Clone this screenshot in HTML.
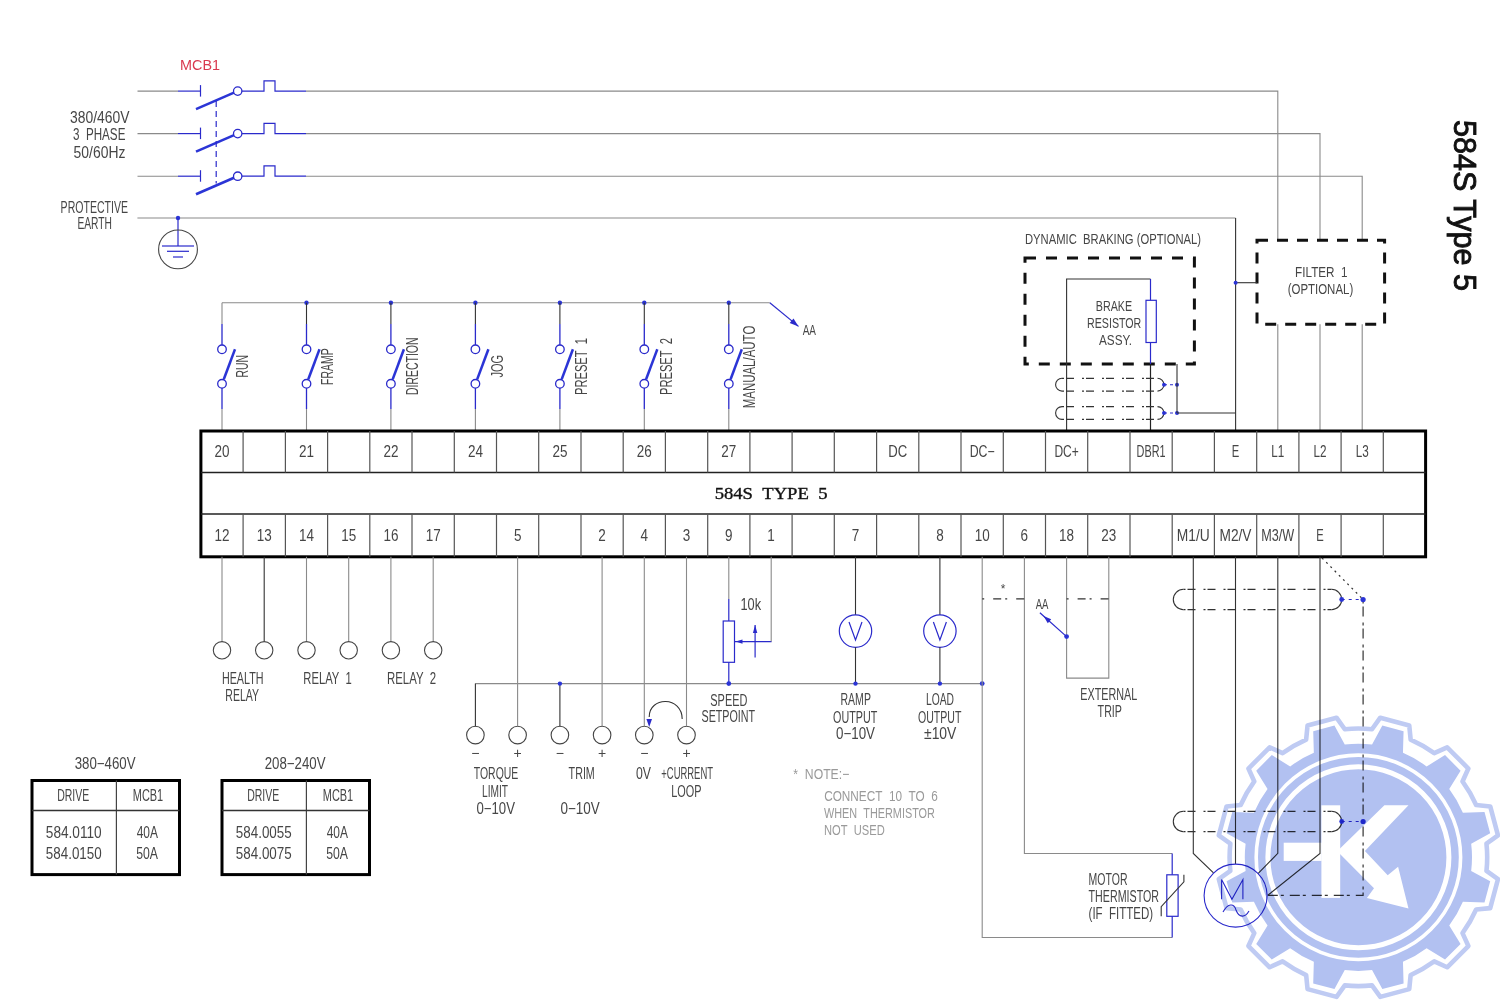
<!DOCTYPE html><html><head><meta charset="utf-8"><style>html,body{margin:0;padding:0;background:#fff;width:1500px;height:1000px;overflow:hidden}body{position:relative}svg{display:block}</style></head><body>
<svg width="1500" height="1000" viewBox="0 0 1500 1000">
<rect width="1500" height="1000" fill="#fff"/>
<text x="180.0" y="70.0" font-size="14.34" fill="#d9394f" textLength="40.0" lengthAdjust="spacingAndGlyphs" font-family="Liberation Sans" >MCB1</text>
<line x1="137.5" y1="91.1" x2="178.0" y2="91.1" stroke="#8a8a8a" stroke-width="1.1" />
<line x1="178.0" y1="91.1" x2="200.5" y2="91.1" stroke="#2a2acb" stroke-width="1.2" />
<line x1="200.5" y1="85.1" x2="200.5" y2="96.6" stroke="#2a2acb" stroke-width="1.2" />
<line x1="196.0" y1="109.1" x2="234.0" y2="92.6" stroke="#2b35d6" stroke-width="2.6" />
<circle cx="237.7" cy="91.1" r="4.2" fill="#fff" stroke="#2a2acb" stroke-width="1.3"/>
<polyline points="241.9,91.1 264.0,91.1 264.0,80.8 275.0,80.8 275.0,91.1 306.0,91.1" fill="none" stroke="#2a2acb" stroke-width="1.2" />
<line x1="137.5" y1="133.6" x2="178.0" y2="133.6" stroke="#8a8a8a" stroke-width="1.1" />
<line x1="178.0" y1="133.6" x2="200.5" y2="133.6" stroke="#2a2acb" stroke-width="1.2" />
<line x1="200.5" y1="127.6" x2="200.5" y2="139.1" stroke="#2a2acb" stroke-width="1.2" />
<line x1="196.0" y1="151.6" x2="234.0" y2="135.1" stroke="#2b35d6" stroke-width="2.6" />
<circle cx="237.7" cy="133.6" r="4.2" fill="#fff" stroke="#2a2acb" stroke-width="1.3"/>
<polyline points="241.9,133.6 264.0,133.6 264.0,123.3 275.0,123.3 275.0,133.6 306.0,133.6" fill="none" stroke="#2a2acb" stroke-width="1.2" />
<line x1="137.5" y1="176.2" x2="178.0" y2="176.2" stroke="#8a8a8a" stroke-width="1.1" />
<line x1="178.0" y1="176.2" x2="200.5" y2="176.2" stroke="#2a2acb" stroke-width="1.2" />
<line x1="200.5" y1="170.2" x2="200.5" y2="181.7" stroke="#2a2acb" stroke-width="1.2" />
<line x1="196.0" y1="194.2" x2="234.0" y2="177.7" stroke="#2b35d6" stroke-width="2.6" />
<circle cx="237.7" cy="176.2" r="4.2" fill="#fff" stroke="#2a2acb" stroke-width="1.3"/>
<polyline points="241.9,176.2 264.0,176.2 264.0,165.9 275.0,165.9 275.0,176.2 306.0,176.2" fill="none" stroke="#2a2acb" stroke-width="1.2" />
<line x1="216.2" y1="101.0" x2="216.2" y2="183.5" stroke="#2a2acb" stroke-width="1.2" stroke-dasharray="6,4"/>
<text x="70.0" y="123.0" font-size="15.68" fill="#464646" textLength="59.4" lengthAdjust="spacingAndGlyphs" font-family="Liberation Sans" >380/460V</text>
<text x="73.0" y="139.6" font-size="15.68" fill="#464646" textLength="52.4" lengthAdjust="spacingAndGlyphs" font-family="Liberation Sans" >3&#160;&#160;PHASE</text>
<text x="73.6" y="157.6" font-size="15.68" fill="#464646" textLength="51.8" lengthAdjust="spacingAndGlyphs" font-family="Liberation Sans" >50/60Hz</text>
<text x="60.6" y="213.0" font-size="15.68" fill="#464646" textLength="67.4" lengthAdjust="spacingAndGlyphs" font-family="Liberation Sans" >PROTECTIVE</text>
<text x="77.4" y="229.4" font-size="15.68" fill="#464646" textLength="34.6" lengthAdjust="spacingAndGlyphs" font-family="Liberation Sans" >EARTH</text>
<line x1="137.4" y1="218.0" x2="1235.6" y2="218.0" stroke="#8a8a8a" stroke-width="1.1" />
<line x1="1235.6" y1="218.0" x2="1235.6" y2="431.0" stroke="#333" stroke-width="1.1" />
<circle cx="178.0" cy="218.0" r="2.2" fill="#2b35d6"/>
<line x1="178.0" y1="218.0" x2="178.0" y2="246.0" stroke="#2a2acb" stroke-width="1.2" />
<circle cx="178.0" cy="249.4" r="19.4" fill="none" stroke="#444" stroke-width="1.1"/>
<line x1="162.0" y1="246.0" x2="194.0" y2="246.0" stroke="#2a2acb" stroke-width="1.2" />
<line x1="167.0" y1="251.3" x2="189.0" y2="251.3" stroke="#2a2acb" stroke-width="1.2" />
<line x1="173.0" y1="257.0" x2="183.0" y2="257.0" stroke="#2a2acb" stroke-width="1.2" />
<polyline points="306.0,91.1 1277.8,91.1 1277.8,240.2" fill="none" stroke="#8a8a8a" stroke-width="1.1" />
<line x1="1277.8" y1="324.2" x2="1277.8" y2="431.0" stroke="#8a8a8a" stroke-width="1.1" />
<polyline points="306.0,133.6 1320.0,133.6 1320.0,240.2" fill="none" stroke="#8a8a8a" stroke-width="1.1" />
<line x1="1320.0" y1="324.2" x2="1320.0" y2="431.0" stroke="#8a8a8a" stroke-width="1.1" />
<polyline points="306.0,176.2 1362.2,176.2 1362.2,240.2" fill="none" stroke="#8a8a8a" stroke-width="1.1" />
<line x1="1362.2" y1="324.2" x2="1362.2" y2="431.0" stroke="#8a8a8a" stroke-width="1.1" />
<rect x="1257" y="240.2" width="127.6" height="84" fill="none" stroke="#111" stroke-width="3" stroke-dasharray="11,9"/>
<line x1="1235.6" y1="282.7" x2="1257.0" y2="282.7" stroke="#333" stroke-width="1.1" />
<circle cx="1235.6" cy="282.7" r="2" fill="#2b35d6"/>
<text x="1295.1" y="277.2" font-size="14.56" fill="#464646" textLength="52.5" lengthAdjust="spacingAndGlyphs" font-family="Liberation Sans" >FILTER&#160;&#160;1</text>
<text x="1287.7" y="293.8" font-size="14.56" fill="#464646" textLength="65.5" lengthAdjust="spacingAndGlyphs" font-family="Liberation Sans" >(OPTIONAL)</text>
<text transform="translate(1453.6,120) rotate(90)" x="0" y="0" font-size="32" fill="#111" textLength="171" lengthAdjust="spacingAndGlyphs" stroke="#111" stroke-width="0.9" font-family="Liberation Sans">584S Type 5</text>
<text x="1025.0" y="243.8" font-size="15.12" fill="#464646" textLength="176.0" lengthAdjust="spacingAndGlyphs" font-family="Liberation Sans" >DYNAMIC&#160;&#160;BRAKING (OPTIONAL)</text>
<rect x="1025" y="258" width="169.4" height="106" fill="none" stroke="#111" stroke-width="3" stroke-dasharray="11,10"/>
<polyline points="1066.6,431.0 1066.6,279.0 1150.5,279.0" fill="none" stroke="#333" stroke-width="1.1" />
<line x1="1150.5" y1="279.0" x2="1150.5" y2="300.3" stroke="#2a2acb" stroke-width="1.2" />
<rect x="1146" y="300.3" width="10.3" height="42.2" fill="none" stroke="#2a2acb" stroke-width="1.2"/>
<line x1="1150.5" y1="342.5" x2="1150.5" y2="364.0" stroke="#2a2acb" stroke-width="1.2" />
<line x1="1150.5" y1="364.0" x2="1150.5" y2="431.0" stroke="#222" stroke-width="1.2" />
<text x="1095.8" y="311.0" font-size="15.12" fill="#464646" textLength="36.3" lengthAdjust="spacingAndGlyphs" font-family="Liberation Sans" >BRAKE</text>
<text x="1087.0" y="327.8" font-size="15.12" fill="#464646" textLength="54.3" lengthAdjust="spacingAndGlyphs" font-family="Liberation Sans" >RESISTOR</text>
<text x="1099.0" y="345.4" font-size="15.12" fill="#464646" textLength="33.0" lengthAdjust="spacingAndGlyphs" font-family="Liberation Sans" >ASSY.</text>
<path d="M1062.0,378.3 A6.4,6.4 0 0 0 1062.0,391.1" fill="none" stroke="#333" stroke-width="1.1"/>
<path d="M1157.5,378.3 A6.4,6.4 0 0 1 1157.5,391.1" fill="none" stroke="#333" stroke-width="1.1"/>
<line x1="1062.0" y1="378.3" x2="1157.5" y2="378.3" stroke="#333" stroke-width="1.3" stroke-dasharray="2,2,8,8"/>
<line x1="1062.0" y1="391.1" x2="1157.5" y2="391.1" stroke="#333" stroke-width="1.3" stroke-dasharray="2,2,8,8"/>
<circle cx="1164.0" cy="384.7" r="2" fill="#2b35d6"/>
<line x1="1164.0" y1="384.7" x2="1177.0" y2="384.7" stroke="#2a2acb" stroke-width="1.1" stroke-dasharray="3,3"/>
<circle cx="1177.0" cy="384.7" r="2" fill="#2b35d6"/>
<path d="M1062.0,406.6 A6.4,6.4 0 0 0 1062.0,419.4" fill="none" stroke="#333" stroke-width="1.1"/>
<path d="M1157.5,406.6 A6.4,6.4 0 0 1 1157.5,419.4" fill="none" stroke="#333" stroke-width="1.1"/>
<line x1="1062.0" y1="406.6" x2="1157.5" y2="406.6" stroke="#333" stroke-width="1.3" stroke-dasharray="2,2,8,8"/>
<line x1="1062.0" y1="419.4" x2="1157.5" y2="419.4" stroke="#333" stroke-width="1.3" stroke-dasharray="2,2,8,8"/>
<circle cx="1164.0" cy="413.0" r="2" fill="#2b35d6"/>
<line x1="1164.0" y1="413.0" x2="1177.0" y2="413.0" stroke="#2a2acb" stroke-width="1.1" stroke-dasharray="3,3"/>
<circle cx="1177.0" cy="413.0" r="2" fill="#2b35d6"/>
<line x1="1177.0" y1="364.0" x2="1177.0" y2="413.0" stroke="#333" stroke-width="1.1" />
<line x1="1177.0" y1="413.0" x2="1235.6" y2="413.0" stroke="#333" stroke-width="1.1" />
<line x1="222.0" y1="302.7" x2="769.8" y2="302.7" stroke="#8a8a8a" stroke-width="1.1" />
<line x1="769.8" y1="302.7" x2="798.5" y2="326.4" stroke="#2a2acb" stroke-width="1.2" />
<polygon points="798.5,326.4 789.7,323.0 793.5,318.4" fill="#2a2acb"/>
<text x="802.7" y="334.5" font-size="14.56" fill="#464646" textLength="13.3" lengthAdjust="spacingAndGlyphs" font-family="Liberation Sans" >AA</text>
<line x1="222.0" y1="302.7" x2="222.0" y2="324.0" stroke="#8a8a8a" stroke-width="1.1" />
<line x1="222.0" y1="324.0" x2="222.0" y2="345.0" stroke="#2a2acb" stroke-width="1.3" />
<circle cx="222.0" cy="349.3" r="4.3" fill="#fff" stroke="#2a2acb" stroke-width="1.3"/>
<circle cx="222.0" cy="383.8" r="4.3" fill="#fff" stroke="#2a2acb" stroke-width="1.3"/>
<line x1="222.0" y1="388.1" x2="222.0" y2="409.0" stroke="#2a2acb" stroke-width="1.3" />
<line x1="222.0" y1="409.0" x2="222.0" y2="431.0" stroke="#8a8a8a" stroke-width="1.1" />
<line x1="223.8" y1="379.3" x2="235.0" y2="349.2" stroke="#2b35d6" stroke-width="2.5" />
<circle cx="306.5" cy="302.7" r="2.2" fill="#2b35d6"/>
<line x1="306.5" y1="302.7" x2="306.5" y2="324.0" stroke="#333" stroke-width="1.1" />
<line x1="306.5" y1="324.0" x2="306.5" y2="345.0" stroke="#2a2acb" stroke-width="1.3" />
<circle cx="306.5" cy="349.3" r="4.3" fill="#fff" stroke="#2a2acb" stroke-width="1.3"/>
<circle cx="306.5" cy="383.8" r="4.3" fill="#fff" stroke="#2a2acb" stroke-width="1.3"/>
<line x1="306.5" y1="388.1" x2="306.5" y2="409.0" stroke="#2a2acb" stroke-width="1.3" />
<line x1="306.5" y1="409.0" x2="306.5" y2="431.0" stroke="#8a8a8a" stroke-width="1.1" />
<line x1="308.3" y1="379.3" x2="319.5" y2="349.2" stroke="#2b35d6" stroke-width="2.5" />
<circle cx="390.9" cy="302.7" r="2.2" fill="#2b35d6"/>
<line x1="390.9" y1="302.7" x2="390.9" y2="324.0" stroke="#333" stroke-width="1.1" />
<line x1="390.9" y1="324.0" x2="390.9" y2="345.0" stroke="#2a2acb" stroke-width="1.3" />
<circle cx="390.9" cy="349.3" r="4.3" fill="#fff" stroke="#2a2acb" stroke-width="1.3"/>
<circle cx="390.9" cy="383.8" r="4.3" fill="#fff" stroke="#2a2acb" stroke-width="1.3"/>
<line x1="390.9" y1="388.1" x2="390.9" y2="409.0" stroke="#2a2acb" stroke-width="1.3" />
<line x1="390.9" y1="409.0" x2="390.9" y2="431.0" stroke="#8a8a8a" stroke-width="1.1" />
<line x1="392.7" y1="379.3" x2="403.9" y2="349.2" stroke="#2b35d6" stroke-width="2.5" />
<circle cx="475.4" cy="302.7" r="2.2" fill="#2b35d6"/>
<line x1="475.4" y1="302.7" x2="475.4" y2="324.0" stroke="#333" stroke-width="1.1" />
<line x1="475.4" y1="324.0" x2="475.4" y2="345.0" stroke="#2a2acb" stroke-width="1.3" />
<circle cx="475.4" cy="349.3" r="4.3" fill="#fff" stroke="#2a2acb" stroke-width="1.3"/>
<circle cx="475.4" cy="383.8" r="4.3" fill="#fff" stroke="#2a2acb" stroke-width="1.3"/>
<line x1="475.4" y1="388.1" x2="475.4" y2="409.0" stroke="#2a2acb" stroke-width="1.3" />
<line x1="475.4" y1="409.0" x2="475.4" y2="431.0" stroke="#8a8a8a" stroke-width="1.1" />
<line x1="477.2" y1="379.3" x2="488.4" y2="349.2" stroke="#2b35d6" stroke-width="2.5" />
<circle cx="559.9" cy="302.7" r="2.2" fill="#2b35d6"/>
<line x1="559.9" y1="302.7" x2="559.9" y2="324.0" stroke="#333" stroke-width="1.1" />
<line x1="559.9" y1="324.0" x2="559.9" y2="345.0" stroke="#2a2acb" stroke-width="1.3" />
<circle cx="559.9" cy="349.3" r="4.3" fill="#fff" stroke="#2a2acb" stroke-width="1.3"/>
<circle cx="559.9" cy="383.8" r="4.3" fill="#fff" stroke="#2a2acb" stroke-width="1.3"/>
<line x1="559.9" y1="388.1" x2="559.9" y2="409.0" stroke="#2a2acb" stroke-width="1.3" />
<line x1="559.9" y1="409.0" x2="559.9" y2="431.0" stroke="#8a8a8a" stroke-width="1.1" />
<line x1="561.7" y1="379.3" x2="572.9" y2="349.2" stroke="#2b35d6" stroke-width="2.5" />
<circle cx="644.3" cy="302.7" r="2.2" fill="#2b35d6"/>
<line x1="644.3" y1="302.7" x2="644.3" y2="324.0" stroke="#333" stroke-width="1.1" />
<line x1="644.3" y1="324.0" x2="644.3" y2="345.0" stroke="#2a2acb" stroke-width="1.3" />
<circle cx="644.3" cy="349.3" r="4.3" fill="#fff" stroke="#2a2acb" stroke-width="1.3"/>
<circle cx="644.3" cy="383.8" r="4.3" fill="#fff" stroke="#2a2acb" stroke-width="1.3"/>
<line x1="644.3" y1="388.1" x2="644.3" y2="409.0" stroke="#2a2acb" stroke-width="1.3" />
<line x1="644.3" y1="409.0" x2="644.3" y2="431.0" stroke="#8a8a8a" stroke-width="1.1" />
<line x1="646.1" y1="379.3" x2="657.3" y2="349.2" stroke="#2b35d6" stroke-width="2.5" />
<circle cx="728.8" cy="302.7" r="2.2" fill="#2b35d6"/>
<line x1="728.8" y1="302.7" x2="728.8" y2="324.0" stroke="#333" stroke-width="1.1" />
<line x1="728.8" y1="324.0" x2="728.8" y2="345.0" stroke="#2a2acb" stroke-width="1.3" />
<circle cx="728.8" cy="349.3" r="4.3" fill="#fff" stroke="#2a2acb" stroke-width="1.3"/>
<circle cx="728.8" cy="383.8" r="4.3" fill="#fff" stroke="#2a2acb" stroke-width="1.3"/>
<line x1="728.8" y1="388.1" x2="728.8" y2="409.0" stroke="#2a2acb" stroke-width="1.3" />
<line x1="728.8" y1="409.0" x2="728.8" y2="431.0" stroke="#8a8a8a" stroke-width="1.1" />
<line x1="730.6" y1="379.3" x2="741.8" y2="349.2" stroke="#2b35d6" stroke-width="2.5" />
<text transform="translate(248.3,377.5) rotate(-90)" x="0" y="0" font-size="15.68" fill="#464646" textLength="22.5" lengthAdjust="spacingAndGlyphs" font-family="Liberation Sans">RUN</text>
<text transform="translate(333.3,385.0) rotate(-90)" x="0" y="0" font-size="15.68" fill="#464646" textLength="36.7" lengthAdjust="spacingAndGlyphs" font-family="Liberation Sans">FRAMP</text>
<text transform="translate(417.5,395.0) rotate(-90)" x="0" y="0" font-size="15.68" fill="#464646" textLength="57.5" lengthAdjust="spacingAndGlyphs" font-family="Liberation Sans">DIRECTION</text>
<text transform="translate(502.5,377.5) rotate(-90)" x="0" y="0" font-size="15.68" fill="#464646" textLength="22.5" lengthAdjust="spacingAndGlyphs" font-family="Liberation Sans">JOG</text>
<text transform="translate(586.7,395.0) rotate(-90)" x="0" y="0" font-size="15.68" fill="#464646" textLength="57.0" lengthAdjust="spacingAndGlyphs" font-family="Liberation Sans">PRESET&#160;&#160;1</text>
<text transform="translate(671.7,395.0) rotate(-90)" x="0" y="0" font-size="15.68" fill="#464646" textLength="57.0" lengthAdjust="spacingAndGlyphs" font-family="Liberation Sans">PRESET&#160;&#160;2</text>
<text transform="translate(755.0,408.3) rotate(-90)" x="0" y="0" font-size="15.68" fill="#464646" textLength="82.6" lengthAdjust="spacingAndGlyphs" font-family="Liberation Sans">MANUAL/AUTO</text>
<rect x="200.9" y="431" width="1224.7" height="125.8" fill="#fff" stroke="#000" stroke-width="3"/>
<line x1="200.9" y1="472.5" x2="1425.6" y2="472.5" stroke="#222" stroke-width="1.3" />
<line x1="200.9" y1="514.0" x2="1425.6" y2="514.0" stroke="#222" stroke-width="1.3" />
<line x1="243.1" y1="431.0" x2="243.1" y2="472.5" stroke="#555" stroke-width="1.2" />
<line x1="243.1" y1="514.0" x2="243.1" y2="556.8" stroke="#555" stroke-width="1.2" />
<line x1="285.4" y1="431.0" x2="285.4" y2="472.5" stroke="#555" stroke-width="1.2" />
<line x1="285.4" y1="514.0" x2="285.4" y2="556.8" stroke="#555" stroke-width="1.2" />
<line x1="327.6" y1="431.0" x2="327.6" y2="472.5" stroke="#555" stroke-width="1.2" />
<line x1="327.6" y1="514.0" x2="327.6" y2="556.8" stroke="#555" stroke-width="1.2" />
<line x1="369.8" y1="431.0" x2="369.8" y2="472.5" stroke="#555" stroke-width="1.2" />
<line x1="369.8" y1="514.0" x2="369.8" y2="556.8" stroke="#555" stroke-width="1.2" />
<line x1="412.0" y1="431.0" x2="412.0" y2="472.5" stroke="#555" stroke-width="1.2" />
<line x1="412.0" y1="514.0" x2="412.0" y2="556.8" stroke="#555" stroke-width="1.2" />
<line x1="454.3" y1="431.0" x2="454.3" y2="472.5" stroke="#555" stroke-width="1.2" />
<line x1="454.3" y1="514.0" x2="454.3" y2="556.8" stroke="#555" stroke-width="1.2" />
<line x1="496.5" y1="431.0" x2="496.5" y2="472.5" stroke="#555" stroke-width="1.2" />
<line x1="496.5" y1="514.0" x2="496.5" y2="556.8" stroke="#555" stroke-width="1.2" />
<line x1="538.7" y1="431.0" x2="538.7" y2="472.5" stroke="#555" stroke-width="1.2" />
<line x1="538.7" y1="514.0" x2="538.7" y2="556.8" stroke="#555" stroke-width="1.2" />
<line x1="581.0" y1="431.0" x2="581.0" y2="472.5" stroke="#555" stroke-width="1.2" />
<line x1="581.0" y1="514.0" x2="581.0" y2="556.8" stroke="#555" stroke-width="1.2" />
<line x1="623.2" y1="431.0" x2="623.2" y2="472.5" stroke="#555" stroke-width="1.2" />
<line x1="623.2" y1="514.0" x2="623.2" y2="556.8" stroke="#555" stroke-width="1.2" />
<line x1="665.4" y1="431.0" x2="665.4" y2="472.5" stroke="#555" stroke-width="1.2" />
<line x1="665.4" y1="514.0" x2="665.4" y2="556.8" stroke="#555" stroke-width="1.2" />
<line x1="707.7" y1="431.0" x2="707.7" y2="472.5" stroke="#555" stroke-width="1.2" />
<line x1="707.7" y1="514.0" x2="707.7" y2="556.8" stroke="#555" stroke-width="1.2" />
<line x1="749.9" y1="431.0" x2="749.9" y2="472.5" stroke="#555" stroke-width="1.2" />
<line x1="749.9" y1="514.0" x2="749.9" y2="556.8" stroke="#555" stroke-width="1.2" />
<line x1="792.1" y1="431.0" x2="792.1" y2="472.5" stroke="#555" stroke-width="1.2" />
<line x1="792.1" y1="514.0" x2="792.1" y2="556.8" stroke="#555" stroke-width="1.2" />
<line x1="834.3" y1="431.0" x2="834.3" y2="472.5" stroke="#555" stroke-width="1.2" />
<line x1="834.3" y1="514.0" x2="834.3" y2="556.8" stroke="#555" stroke-width="1.2" />
<line x1="876.6" y1="431.0" x2="876.6" y2="472.5" stroke="#555" stroke-width="1.2" />
<line x1="876.6" y1="514.0" x2="876.6" y2="556.8" stroke="#555" stroke-width="1.2" />
<line x1="918.8" y1="431.0" x2="918.8" y2="472.5" stroke="#555" stroke-width="1.2" />
<line x1="918.8" y1="514.0" x2="918.8" y2="556.8" stroke="#555" stroke-width="1.2" />
<line x1="961.0" y1="431.0" x2="961.0" y2="472.5" stroke="#555" stroke-width="1.2" />
<line x1="961.0" y1="514.0" x2="961.0" y2="556.8" stroke="#555" stroke-width="1.2" />
<line x1="1003.3" y1="431.0" x2="1003.3" y2="472.5" stroke="#555" stroke-width="1.2" />
<line x1="1003.3" y1="514.0" x2="1003.3" y2="556.8" stroke="#555" stroke-width="1.2" />
<line x1="1045.5" y1="431.0" x2="1045.5" y2="472.5" stroke="#555" stroke-width="1.2" />
<line x1="1045.5" y1="514.0" x2="1045.5" y2="556.8" stroke="#555" stroke-width="1.2" />
<line x1="1087.7" y1="431.0" x2="1087.7" y2="472.5" stroke="#555" stroke-width="1.2" />
<line x1="1087.7" y1="514.0" x2="1087.7" y2="556.8" stroke="#555" stroke-width="1.2" />
<line x1="1130.0" y1="431.0" x2="1130.0" y2="472.5" stroke="#555" stroke-width="1.2" />
<line x1="1130.0" y1="514.0" x2="1130.0" y2="556.8" stroke="#555" stroke-width="1.2" />
<line x1="1172.2" y1="431.0" x2="1172.2" y2="472.5" stroke="#555" stroke-width="1.2" />
<line x1="1172.2" y1="514.0" x2="1172.2" y2="556.8" stroke="#555" stroke-width="1.2" />
<line x1="1214.4" y1="431.0" x2="1214.4" y2="472.5" stroke="#555" stroke-width="1.2" />
<line x1="1214.4" y1="514.0" x2="1214.4" y2="556.8" stroke="#555" stroke-width="1.2" />
<line x1="1256.7" y1="431.0" x2="1256.7" y2="472.5" stroke="#555" stroke-width="1.2" />
<line x1="1256.7" y1="514.0" x2="1256.7" y2="556.8" stroke="#555" stroke-width="1.2" />
<line x1="1298.9" y1="431.0" x2="1298.9" y2="472.5" stroke="#555" stroke-width="1.2" />
<line x1="1298.9" y1="514.0" x2="1298.9" y2="556.8" stroke="#555" stroke-width="1.2" />
<line x1="1341.1" y1="431.0" x2="1341.1" y2="472.5" stroke="#555" stroke-width="1.2" />
<line x1="1341.1" y1="514.0" x2="1341.1" y2="556.8" stroke="#555" stroke-width="1.2" />
<line x1="1383.3" y1="431.0" x2="1383.3" y2="472.5" stroke="#555" stroke-width="1.2" />
<line x1="1383.3" y1="514.0" x2="1383.3" y2="556.8" stroke="#555" stroke-width="1.2" />
<text x="214.5" y="457.0" font-size="15.79" fill="#464646" textLength="15.0" lengthAdjust="spacingAndGlyphs" font-family="Liberation Sans" >20</text>
<text x="299.0" y="457.0" font-size="15.79" fill="#464646" textLength="15.0" lengthAdjust="spacingAndGlyphs" font-family="Liberation Sans" >21</text>
<text x="383.4" y="457.0" font-size="15.79" fill="#464646" textLength="15.0" lengthAdjust="spacingAndGlyphs" font-family="Liberation Sans" >22</text>
<text x="467.9" y="457.0" font-size="15.79" fill="#464646" textLength="15.0" lengthAdjust="spacingAndGlyphs" font-family="Liberation Sans" >24</text>
<text x="552.4" y="457.0" font-size="15.79" fill="#464646" textLength="15.0" lengthAdjust="spacingAndGlyphs" font-family="Liberation Sans" >25</text>
<text x="636.8" y="457.0" font-size="15.79" fill="#464646" textLength="15.0" lengthAdjust="spacingAndGlyphs" font-family="Liberation Sans" >26</text>
<text x="721.3" y="457.0" font-size="15.79" fill="#464646" textLength="15.0" lengthAdjust="spacingAndGlyphs" font-family="Liberation Sans" >27</text>
<text x="888.2" y="457.0" font-size="15.79" fill="#464646" textLength="19.0" lengthAdjust="spacingAndGlyphs" font-family="Liberation Sans" >DC</text>
<text x="969.7" y="457.0" font-size="15.79" fill="#464646" textLength="25.0" lengthAdjust="spacingAndGlyphs" font-family="Liberation Sans" >DC&#8722;</text>
<text x="1054.4" y="457.0" font-size="15.79" fill="#464646" textLength="24.4" lengthAdjust="spacingAndGlyphs" font-family="Liberation Sans" >DC+</text>
<text x="1136.6" y="457.0" font-size="15.79" fill="#464646" textLength="29.0" lengthAdjust="spacingAndGlyphs" font-family="Liberation Sans" >DBR1</text>
<text x="1231.8" y="457.0" font-size="15.79" fill="#464646" textLength="7.5" lengthAdjust="spacingAndGlyphs" font-family="Liberation Sans" >E</text>
<text x="1271.3" y="457.0" font-size="15.79" fill="#464646" textLength="13.0" lengthAdjust="spacingAndGlyphs" font-family="Liberation Sans" >L1</text>
<text x="1313.5" y="457.0" font-size="15.79" fill="#464646" textLength="13.0" lengthAdjust="spacingAndGlyphs" font-family="Liberation Sans" >L2</text>
<text x="1355.7" y="457.0" font-size="15.79" fill="#464646" textLength="13.0" lengthAdjust="spacingAndGlyphs" font-family="Liberation Sans" >L3</text>
<text x="214.5" y="541.4" font-size="15.79" fill="#464646" textLength="15.0" lengthAdjust="spacingAndGlyphs" font-family="Liberation Sans" >12</text>
<text x="256.7" y="541.4" font-size="15.79" fill="#464646" textLength="15.0" lengthAdjust="spacingAndGlyphs" font-family="Liberation Sans" >13</text>
<text x="299.0" y="541.4" font-size="15.79" fill="#464646" textLength="15.0" lengthAdjust="spacingAndGlyphs" font-family="Liberation Sans" >14</text>
<text x="341.2" y="541.4" font-size="15.79" fill="#464646" textLength="15.0" lengthAdjust="spacingAndGlyphs" font-family="Liberation Sans" >15</text>
<text x="383.4" y="541.4" font-size="15.79" fill="#464646" textLength="15.0" lengthAdjust="spacingAndGlyphs" font-family="Liberation Sans" >16</text>
<text x="425.7" y="541.4" font-size="15.79" fill="#464646" textLength="15.0" lengthAdjust="spacingAndGlyphs" font-family="Liberation Sans" >17</text>
<text x="513.9" y="541.4" font-size="15.79" fill="#464646" textLength="7.5" lengthAdjust="spacingAndGlyphs" font-family="Liberation Sans" >5</text>
<text x="598.3" y="541.4" font-size="15.79" fill="#464646" textLength="7.5" lengthAdjust="spacingAndGlyphs" font-family="Liberation Sans" >2</text>
<text x="640.6" y="541.4" font-size="15.79" fill="#464646" textLength="7.5" lengthAdjust="spacingAndGlyphs" font-family="Liberation Sans" >4</text>
<text x="682.8" y="541.4" font-size="15.79" fill="#464646" textLength="7.5" lengthAdjust="spacingAndGlyphs" font-family="Liberation Sans" >3</text>
<text x="725.0" y="541.4" font-size="15.79" fill="#464646" textLength="7.5" lengthAdjust="spacingAndGlyphs" font-family="Liberation Sans" >9</text>
<text x="767.3" y="541.4" font-size="15.79" fill="#464646" textLength="7.5" lengthAdjust="spacingAndGlyphs" font-family="Liberation Sans" >1</text>
<text x="851.7" y="541.4" font-size="15.79" fill="#464646" textLength="7.5" lengthAdjust="spacingAndGlyphs" font-family="Liberation Sans" >7</text>
<text x="936.2" y="541.4" font-size="15.79" fill="#464646" textLength="7.5" lengthAdjust="spacingAndGlyphs" font-family="Liberation Sans" >8</text>
<text x="974.7" y="541.4" font-size="15.79" fill="#464646" textLength="15.0" lengthAdjust="spacingAndGlyphs" font-family="Liberation Sans" >10</text>
<text x="1020.6" y="541.4" font-size="15.79" fill="#464646" textLength="7.5" lengthAdjust="spacingAndGlyphs" font-family="Liberation Sans" >6</text>
<text x="1059.1" y="541.4" font-size="15.79" fill="#464646" textLength="15.0" lengthAdjust="spacingAndGlyphs" font-family="Liberation Sans" >18</text>
<text x="1101.3" y="541.4" font-size="15.79" fill="#464646" textLength="15.0" lengthAdjust="spacingAndGlyphs" font-family="Liberation Sans" >23</text>
<text x="1176.8" y="541.4" font-size="15.79" fill="#464646" textLength="33.0" lengthAdjust="spacingAndGlyphs" font-family="Liberation Sans" >M1/U</text>
<text x="1219.5" y="541.4" font-size="15.79" fill="#464646" textLength="32.0" lengthAdjust="spacingAndGlyphs" font-family="Liberation Sans" >M2/V</text>
<text x="1261.3" y="541.4" font-size="15.79" fill="#464646" textLength="33.0" lengthAdjust="spacingAndGlyphs" font-family="Liberation Sans" >M3/W</text>
<text x="1316.2" y="541.4" font-size="15.79" fill="#464646" textLength="7.5" lengthAdjust="spacingAndGlyphs" font-family="Liberation Sans" >E</text>
<text x="714.7" y="498.7" font-size="15.9" fill="#111" textLength="112.8" lengthAdjust="spacingAndGlyphs" font-family="Liberation Serif" stroke="#111" stroke-width="0.35">584S&#160;&#160;TYPE&#160;&#160;5</text>
<line x1="222.0" y1="556.8" x2="222.0" y2="641.6" stroke="#8a8a8a" stroke-width="1.1" />
<circle cx="222.0" cy="650.3" r="8.7" fill="#fff" stroke="#444" stroke-width="1.1"/>
<line x1="264.2" y1="556.8" x2="264.2" y2="641.6" stroke="#333" stroke-width="1.1" />
<circle cx="264.2" cy="650.3" r="8.7" fill="#fff" stroke="#444" stroke-width="1.1"/>
<line x1="306.5" y1="556.8" x2="306.5" y2="641.6" stroke="#8a8a8a" stroke-width="1.1" />
<circle cx="306.5" cy="650.3" r="8.7" fill="#fff" stroke="#444" stroke-width="1.1"/>
<line x1="348.7" y1="556.8" x2="348.7" y2="641.6" stroke="#8a8a8a" stroke-width="1.1" />
<circle cx="348.7" cy="650.3" r="8.7" fill="#fff" stroke="#444" stroke-width="1.1"/>
<line x1="390.9" y1="556.8" x2="390.9" y2="641.6" stroke="#8a8a8a" stroke-width="1.1" />
<circle cx="390.9" cy="650.3" r="8.7" fill="#fff" stroke="#444" stroke-width="1.1"/>
<line x1="433.2" y1="556.8" x2="433.2" y2="641.6" stroke="#8a8a8a" stroke-width="1.1" />
<circle cx="433.2" cy="650.3" r="8.7" fill="#fff" stroke="#444" stroke-width="1.1"/>
<text x="221.9" y="683.6" font-size="15.68" fill="#464646" textLength="41.6" lengthAdjust="spacingAndGlyphs" font-family="Liberation Sans" >HEALTH</text>
<text x="225.3" y="701.4" font-size="15.68" fill="#464646" textLength="33.7" lengthAdjust="spacingAndGlyphs" font-family="Liberation Sans" >RELAY</text>
<text x="303.3" y="683.6" font-size="15.68" fill="#464646" textLength="48.5" lengthAdjust="spacingAndGlyphs" font-family="Liberation Sans" >RELAY&#160;&#160;1</text>
<text x="387.0" y="683.6" font-size="15.68" fill="#464646" textLength="49.2" lengthAdjust="spacingAndGlyphs" font-family="Liberation Sans" >RELAY&#160;&#160;2</text>
<text x="74.7" y="769.0" font-size="15.68" fill="#464646" textLength="60.8" lengthAdjust="spacingAndGlyphs" font-family="Liberation Sans" >380&#8722;460V</text>
<rect x="32" y="780.5" width="147.5" height="94.1" fill="none" stroke="#000" stroke-width="3"/>
<line x1="116.4" y1="780.5" x2="116.4" y2="874.6" stroke="#444" stroke-width="1.2" />
<line x1="32.0" y1="810.5" x2="179.5" y2="810.5" stroke="#333" stroke-width="1.3" />
<text x="57.2" y="800.7" font-size="16.24" fill="#464646" textLength="32.1" lengthAdjust="spacingAndGlyphs" font-family="Liberation Sans" >DRIVE</text>
<text x="132.8" y="800.7" font-size="16.24" fill="#464646" textLength="30.4" lengthAdjust="spacingAndGlyphs" font-family="Liberation Sans" >MCB1</text>
<text x="45.8" y="838.2" font-size="16.8" fill="#464646" textLength="55.9" lengthAdjust="spacingAndGlyphs" font-family="Liberation Sans" >584.0110</text>
<text x="45.8" y="859.2" font-size="16.8" fill="#464646" textLength="55.9" lengthAdjust="spacingAndGlyphs" font-family="Liberation Sans" >584.0150</text>
<text x="136.7" y="838.2" font-size="16.8" fill="#464646" textLength="21.3" lengthAdjust="spacingAndGlyphs" font-family="Liberation Sans" >40A</text>
<text x="136.2" y="859.2" font-size="16.8" fill="#464646" textLength="21.8" lengthAdjust="spacingAndGlyphs" font-family="Liberation Sans" >50A</text>
<text x="264.7" y="769.0" font-size="15.68" fill="#464646" textLength="60.8" lengthAdjust="spacingAndGlyphs" font-family="Liberation Sans" >208&#8722;240V</text>
<rect x="222" y="780.5" width="147.5" height="94.1" fill="none" stroke="#000" stroke-width="3"/>
<line x1="306.4" y1="780.5" x2="306.4" y2="874.6" stroke="#444" stroke-width="1.2" />
<line x1="222.0" y1="810.5" x2="369.5" y2="810.5" stroke="#333" stroke-width="1.3" />
<text x="247.2" y="800.7" font-size="16.24" fill="#464646" textLength="32.1" lengthAdjust="spacingAndGlyphs" font-family="Liberation Sans" >DRIVE</text>
<text x="322.8" y="800.7" font-size="16.24" fill="#464646" textLength="30.4" lengthAdjust="spacingAndGlyphs" font-family="Liberation Sans" >MCB1</text>
<text x="235.8" y="838.2" font-size="16.8" fill="#464646" textLength="55.9" lengthAdjust="spacingAndGlyphs" font-family="Liberation Sans" >584.0055</text>
<text x="235.8" y="859.2" font-size="16.8" fill="#464646" textLength="55.9" lengthAdjust="spacingAndGlyphs" font-family="Liberation Sans" >584.0075</text>
<text x="326.7" y="838.2" font-size="16.8" fill="#464646" textLength="21.3" lengthAdjust="spacingAndGlyphs" font-family="Liberation Sans" >40A</text>
<text x="326.2" y="859.2" font-size="16.8" fill="#464646" textLength="21.8" lengthAdjust="spacingAndGlyphs" font-family="Liberation Sans" >50A</text>
<line x1="475.4" y1="683.6" x2="982.2" y2="683.6" stroke="#8a8a8a" stroke-width="1.1" />
<circle cx="475.4" cy="735.1" r="8.8" fill="#fff" stroke="#444" stroke-width="1.1"/>
<circle cx="517.6" cy="735.1" r="8.8" fill="#fff" stroke="#444" stroke-width="1.1"/>
<circle cx="559.9" cy="735.1" r="8.8" fill="#fff" stroke="#444" stroke-width="1.1"/>
<circle cx="602.1" cy="735.1" r="8.8" fill="#fff" stroke="#444" stroke-width="1.1"/>
<circle cx="644.3" cy="735.1" r="8.8" fill="#fff" stroke="#444" stroke-width="1.1"/>
<circle cx="686.5" cy="735.1" r="8.8" fill="#fff" stroke="#444" stroke-width="1.1"/>
<line x1="517.6" y1="556.8" x2="517.6" y2="726.3" stroke="#8a8a8a" stroke-width="1.1" />
<line x1="602.1" y1="556.8" x2="602.1" y2="726.3" stroke="#8a8a8a" stroke-width="1.1" />
<line x1="644.3" y1="556.8" x2="644.3" y2="726.3" stroke="#8a8a8a" stroke-width="1.1" />
<line x1="686.5" y1="556.8" x2="686.5" y2="726.3" stroke="#8a8a8a" stroke-width="1.1" />
<line x1="475.4" y1="683.6" x2="475.4" y2="726.3" stroke="#333" stroke-width="1.1" />
<line x1="559.9" y1="683.6" x2="559.9" y2="726.3" stroke="#333" stroke-width="1.1" />
<circle cx="559.9" cy="683.6" r="2.2" fill="#2b35d6"/>
<text x="475.4" y="758" font-size="14" fill="#464646" text-anchor="middle" font-family="Liberation Sans">&#8722;</text>
<text x="517.6" y="758" font-size="14" fill="#464646" text-anchor="middle" font-family="Liberation Sans">+</text>
<text x="559.9" y="758" font-size="14" fill="#464646" text-anchor="middle" font-family="Liberation Sans">&#8722;</text>
<text x="602.1" y="758" font-size="14" fill="#464646" text-anchor="middle" font-family="Liberation Sans">+</text>
<text x="644.3" y="758" font-size="14" fill="#464646" text-anchor="middle" font-family="Liberation Sans">&#8722;</text>
<text x="686.5" y="758" font-size="14" fill="#464646" text-anchor="middle" font-family="Liberation Sans">+</text>
<text x="473.8" y="779.1" font-size="15.68" fill="#464646" textLength="44.5" lengthAdjust="spacingAndGlyphs" font-family="Liberation Sans" >TORQUE</text>
<text x="482.0" y="797.0" font-size="15.68" fill="#464646" textLength="26.0" lengthAdjust="spacingAndGlyphs" font-family="Liberation Sans" >LIMIT</text>
<text x="476.5" y="813.5" font-size="15.68" fill="#464646" textLength="38.5" lengthAdjust="spacingAndGlyphs" font-family="Liberation Sans" >0&#8722;10V</text>
<text x="568.6" y="779.1" font-size="15.68" fill="#464646" textLength="26.2" lengthAdjust="spacingAndGlyphs" font-family="Liberation Sans" >TRIM</text>
<text x="560.4" y="813.5" font-size="15.68" fill="#464646" textLength="39.3" lengthAdjust="spacingAndGlyphs" font-family="Liberation Sans" >0&#8722;10V</text>
<text x="636.0" y="779.1" font-size="15.68" fill="#464646" textLength="15.0" lengthAdjust="spacingAndGlyphs" font-family="Liberation Sans" >0V</text>
<text x="661.3" y="779.1" font-size="15.68" fill="#464646" textLength="51.7" lengthAdjust="spacingAndGlyphs" font-family="Liberation Sans" >+CURRENT</text>
<text x="671.2" y="797.0" font-size="15.68" fill="#464646" textLength="30.3" lengthAdjust="spacingAndGlyphs" font-family="Liberation Sans" >LOOP</text>
<path d="M682.2,719 C682.2,696 649.2,696 649.2,717" fill="none" stroke="#333" stroke-width="1.1"/>
<polygon points="649.2,727.0 646.4,719.0 652.0,719.0" fill="#2a2acb"/>
<line x1="728.8" y1="556.8" x2="728.8" y2="599.0" stroke="#8a8a8a" stroke-width="1.1" />
<line x1="728.8" y1="599.0" x2="728.8" y2="621.0" stroke="#2a2acb" stroke-width="1.2" />
<rect x="723.2" y="621" width="11.3" height="41.3" fill="none" stroke="#2a2acb" stroke-width="1.2"/>
<line x1="728.8" y1="662.3" x2="728.8" y2="683.6" stroke="#2a2acb" stroke-width="1.2" />
<circle cx="728.8" cy="683.6" r="2.4" fill="#2b35d6"/>
<line x1="735.0" y1="641.6" x2="771.6" y2="641.6" stroke="#2a2acb" stroke-width="1.2" />
<polygon points="735.5,641.6 742.5,639.4 742.5,643.8" fill="#2a2acb"/>
<line x1="755.1" y1="657.6" x2="755.1" y2="625.0" stroke="#2a2acb" stroke-width="1.2" />
<polygon points="755.1,625.0 757.3,633.0 752.9,633.0" fill="#2a2acb"/>
<line x1="771.2" y1="556.8" x2="771.2" y2="641.6" stroke="#8a8a8a" stroke-width="1.1" />
<text x="740.5" y="610.0" font-size="15.68" fill="#464646" textLength="20.6" lengthAdjust="spacingAndGlyphs" font-family="Liberation Sans" >10k</text>
<text x="710.3" y="705.7" font-size="15.68" fill="#464646" textLength="37.1" lengthAdjust="spacingAndGlyphs" font-family="Liberation Sans" >SPEED</text>
<text x="701.5" y="722.2" font-size="15.68" fill="#464646" textLength="53.6" lengthAdjust="spacingAndGlyphs" font-family="Liberation Sans" >SETPOINT</text>
<line x1="855.5" y1="556.8" x2="855.5" y2="614.9" stroke="#333" stroke-width="1.1" />
<circle cx="855.5" cy="631.1" r="16.2" fill="#fff" stroke="#2a2acb" stroke-width="1.2"/>
<polyline points="849.0,622.0 855.5,640.0 862.0,622.0" fill="none" stroke="#2a2acb" stroke-width="1.2" />
<line x1="855.5" y1="647.3" x2="855.5" y2="683.6" stroke="#333" stroke-width="1.1" />
<circle cx="855.5" cy="683.6" r="2.2" fill="#2b35d6"/>
<line x1="939.9" y1="556.8" x2="939.9" y2="614.9" stroke="#333" stroke-width="1.1" />
<circle cx="939.9" cy="631.1" r="16.2" fill="#fff" stroke="#2a2acb" stroke-width="1.2"/>
<polyline points="933.4,622.0 939.9,640.0 946.4,622.0" fill="none" stroke="#2a2acb" stroke-width="1.2" />
<line x1="939.9" y1="647.3" x2="939.9" y2="683.6" stroke="#333" stroke-width="1.1" />
<circle cx="939.9" cy="683.6" r="2.2" fill="#2b35d6"/>
<text x="840.5" y="705.4" font-size="15.68" fill="#464646" textLength="30.4" lengthAdjust="spacingAndGlyphs" font-family="Liberation Sans" >RAMP</text>
<text x="833.1" y="722.6" font-size="15.68" fill="#464646" textLength="44.2" lengthAdjust="spacingAndGlyphs" font-family="Liberation Sans" >OUTPUT</text>
<text x="836.0" y="739.4" font-size="15.68" fill="#464646" textLength="39.0" lengthAdjust="spacingAndGlyphs" font-family="Liberation Sans" >0&#8722;10V</text>
<text x="926.0" y="705.4" font-size="15.68" fill="#464646" textLength="28.0" lengthAdjust="spacingAndGlyphs" font-family="Liberation Sans" >LOAD</text>
<text x="918.0" y="722.6" font-size="15.68" fill="#464646" textLength="43.4" lengthAdjust="spacingAndGlyphs" font-family="Liberation Sans" >OUTPUT</text>
<text x="924.0" y="739.4" font-size="15.68" fill="#464646" textLength="32.4" lengthAdjust="spacingAndGlyphs" font-family="Liberation Sans" >&#177;10V</text>
<circle cx="982.2" cy="683.6" r="2.4" fill="#2b35d6"/>
<text x="793.3" y="779.2" font-size="14.56" fill="#9a9a9a" textLength="56.0" lengthAdjust="spacingAndGlyphs" font-family="Liberation Sans" >*&#160;&#160;NOTE:&#8722;</text>
<text x="824.2" y="800.7" font-size="14.56" fill="#9a9a9a" textLength="113.6" lengthAdjust="spacingAndGlyphs" font-family="Liberation Sans" >CONNECT&#160;&#160;10&#160;&#160;TO&#160;&#160;6</text>
<text x="824.0" y="818.1" font-size="14.56" fill="#9a9a9a" textLength="110.9" lengthAdjust="spacingAndGlyphs" font-family="Liberation Sans" >WHEN&#160;&#160;THERMISTOR</text>
<text x="824.0" y="834.6" font-size="14.56" fill="#9a9a9a" textLength="60.7" lengthAdjust="spacingAndGlyphs" font-family="Liberation Sans" >NOT&#160;&#160;USED</text>
<polyline points="982.2,556.8 982.2,937.5 1172.2,937.5" fill="none" stroke="#8a8a8a" stroke-width="1.1" />
<polyline points="1024.4,556.8 1024.4,853.5 1172.2,853.5" fill="none" stroke="#8a8a8a" stroke-width="1.1" />
<line x1="982.2" y1="598.8" x2="1024.4" y2="598.8" stroke="#333" stroke-width="1.3" stroke-dasharray="2,9,8,4"/>
<text x="1003" y="593" font-size="12" fill="#464646" text-anchor="middle" font-family="Liberation Sans">*</text>
<polyline points="1066.6,556.8 1066.6,678.1 1108.8,678.1 1108.8,556.8" fill="none" stroke="#8a8a8a" stroke-width="1.1" />
<line x1="1066.6" y1="598.9" x2="1108.8" y2="598.9" stroke="#333" stroke-width="1.3" stroke-dasharray="2,9,8,4"/>
<circle cx="1066.6" cy="636.6" r="2.4" fill="#2b35d6"/>
<line x1="1066.6" y1="636.6" x2="1039.9" y2="612.8" stroke="#2a2acb" stroke-width="1.2" />
<polygon points="1043.5,616.0 1051.2,619.3 1047.8,623.2" fill="#2a2acb"/>
<text x="1035.7" y="609.4" font-size="14.56" fill="#464646" textLength="12.7" lengthAdjust="spacingAndGlyphs" font-family="Liberation Sans" >AA</text>
<text x="1080.3" y="700.2" font-size="15.68" fill="#464646" textLength="56.9" lengthAdjust="spacingAndGlyphs" font-family="Liberation Sans" >EXTERNAL</text>
<text x="1097.6" y="717.0" font-size="15.68" fill="#464646" textLength="24.4" lengthAdjust="spacingAndGlyphs" font-family="Liberation Sans" >TRIP</text>
<line x1="1172.2" y1="853.5" x2="1172.2" y2="874.8" stroke="#2a2acb" stroke-width="1.2" />
<rect x="1166.8" y="874.8" width="11.3" height="41.5" fill="none" stroke="#2a2acb" stroke-width="1.2"/>
<line x1="1172.2" y1="916.3" x2="1172.2" y2="937.5" stroke="#2a2acb" stroke-width="1.2" />
<polyline points="1161.2,916.3 1161.2,906.7 1183.9,881.8 1183.9,874.8" fill="none" stroke="#333" stroke-width="1.1" />
<text x="1088.6" y="884.7" font-size="15.68" fill="#464646" textLength="38.9" lengthAdjust="spacingAndGlyphs" font-family="Liberation Sans" >MOTOR</text>
<text x="1088.6" y="902.3" font-size="15.68" fill="#464646" textLength="70.4" lengthAdjust="spacingAndGlyphs" font-family="Liberation Sans" >THERMISTOR</text>
<text x="1088.6" y="919.2" font-size="15.68" fill="#464646" textLength="64.5" lengthAdjust="spacingAndGlyphs" font-family="Liberation Sans" >(IF&#160;&#160;FITTED)</text>
<polyline points="1193.3,556.8 1193.3,853.4 1213.5,872.9" fill="none" stroke="#333" stroke-width="1.1" />
<line x1="1235.5" y1="556.8" x2="1235.5" y2="864.0" stroke="#333" stroke-width="1.1" />
<polyline points="1277.8,556.8 1277.8,853.4 1258.0,873.6" fill="none" stroke="#333" stroke-width="1.1" />
<polyline points="1320.0,556.8 1320.0,853.4 1267.8,895.3" fill="none" stroke="#333" stroke-width="1.1" />
<polyline points="1267.8,895.3 1363.1,895.3 1363.1,599.5" fill="none" stroke="#333" stroke-width="1.2" stroke-dasharray="10,3,3,6"/>
<line x1="1322.0" y1="558.0" x2="1363.1" y2="599.5" stroke="#333" stroke-width="1.2" stroke-dasharray="2,4"/>
<circle cx="1235.6" cy="895.6" r="31.5" fill="none" stroke="#2a2acb" stroke-width="1.1"/>
<polyline points="1221.6,899.3 1221.6,879.5 1231.9,899.3 1242.9,879.5 1242.9,899.3" fill="none" stroke="#2a2acb" stroke-width="1.1" />
<path d="M1223,912 C1228,903 1234,903 1236,910 C1239,918 1245,918 1249,911" fill="none" stroke="#2a2acb" stroke-width="1.1"/>
<path d="M1183.5,589.3 A10.2,10.2 0 0 0 1183.5,609.7" fill="none" stroke="#333" stroke-width="1.1"/>
<path d="M1331.5,589.3 A10.2,10.2 0 0 1 1331.5,609.7" fill="none" stroke="#333" stroke-width="1.1"/>
<line x1="1183.5" y1="589.3" x2="1331.5" y2="589.3" stroke="#333" stroke-width="1.3" stroke-dasharray="2,2,8,8"/>
<line x1="1183.5" y1="609.7" x2="1331.5" y2="609.7" stroke="#333" stroke-width="1.3" stroke-dasharray="2,2,8,8"/>
<circle cx="1341.7" cy="599.5" r="2.4" fill="#2b35d6"/>
<line x1="1341.7" y1="599.5" x2="1363.1" y2="599.5" stroke="#2a2acb" stroke-width="1.1" stroke-dasharray="3,4"/>
<circle cx="1363.1" cy="599.5" r="2.6" fill="#2b35d6"/>
<path d="M1183.5,811.3 A10.2,10.2 0 0 0 1183.5,831.7" fill="none" stroke="#333" stroke-width="1.1"/>
<path d="M1331.5,811.3 A10.2,10.2 0 0 1 1331.5,831.7" fill="none" stroke="#333" stroke-width="1.1"/>
<line x1="1183.5" y1="811.3" x2="1331.5" y2="811.3" stroke="#333" stroke-width="1.3" stroke-dasharray="2,2,8,8"/>
<line x1="1183.5" y1="831.7" x2="1331.5" y2="831.7" stroke="#333" stroke-width="1.3" stroke-dasharray="2,2,8,8"/>
<circle cx="1341.7" cy="821.5" r="2.4" fill="#2b35d6"/>
<line x1="1341.7" y1="821.5" x2="1363.1" y2="821.5" stroke="#2a2acb" stroke-width="1.1" stroke-dasharray="3,4"/>
<circle cx="1363.1" cy="821.5" r="2.6" fill="#2b35d6"/>
</svg>
<svg width="1500" height="1000" viewBox="0 0 1500 1000" style="position:absolute;left:0;top:0;mix-blend-mode:multiply">
<path d="M1372.01,729.22 L1380.28,717.71 L1409.25,725.47 L1410.65,739.57 A128.8,128.8 0 0 1 1434.23,753.19 L1447.14,747.34 L1468.36,768.56 L1462.51,781.47 A128.8,128.8 0 0 1 1476.13,805.05 L1490.23,806.45 L1497.99,835.42 L1486.48,843.69 A128.8,128.8 0 0 1 1486.48,870.91 L1497.99,879.18 L1490.23,908.15 L1476.13,909.55 A128.8,128.8 0 0 1 1462.51,933.13 L1468.36,946.04 L1447.14,967.26 L1434.23,961.41 A128.8,128.8 0 0 1 1410.65,975.03 L1409.25,989.13 L1380.28,996.89 L1372.01,985.38 A128.8,128.8 0 0 1 1344.79,985.38 L1336.52,996.89 L1307.55,989.13 L1306.15,975.03 A128.8,128.8 0 0 1 1282.57,961.41 L1269.66,967.26 L1248.44,946.04 L1254.29,933.13 A128.8,128.8 0 0 1 1240.67,909.55 L1226.57,908.15 L1218.81,879.18 L1230.32,870.91 A128.8,128.8 0 0 1 1230.32,843.69 L1218.81,835.42 L1226.57,806.45 L1240.67,805.05 A128.8,128.8 0 0 1 1254.29,781.47 L1248.44,768.56 L1269.66,747.34 L1282.57,753.19 A128.8,128.8 0 0 1 1306.15,739.57 L1307.55,725.47 L1336.52,717.71 L1344.79,729.22 A128.8,128.8 0 0 1 1372.01,729.22 Z" fill="none" stroke="#bfcbf3" stroke-width="4.6" stroke-linejoin="round"/>
<path d="M1372.05,744.52 L1382.33,725.50 L1403.58,731.20 L1402.96,752.81 A113.6,113.6 0 0 1 1426.61,766.46 L1445.02,755.12 L1460.58,770.68 L1449.24,789.09 A113.6,113.6 0 0 1 1462.89,812.74 L1484.50,812.12 L1490.20,833.37 L1471.18,843.65 A113.6,113.6 0 0 1 1471.18,870.95 L1490.20,881.23 L1484.50,902.48 L1462.89,901.86 A113.6,113.6 0 0 1 1449.24,925.51 L1460.58,943.92 L1445.02,959.48 L1426.61,948.14 A113.6,113.6 0 0 1 1402.96,961.79 L1403.58,983.40 L1382.33,989.10 L1372.05,970.08 A113.6,113.6 0 0 1 1344.75,970.08 L1334.47,989.10 L1313.22,983.40 L1313.84,961.79 A113.6,113.6 0 0 1 1290.19,948.14 L1271.78,959.48 L1256.22,943.92 L1267.56,925.51 A113.6,113.6 0 0 1 1253.91,901.86 L1232.30,902.48 L1226.60,881.23 L1245.62,870.95 A113.6,113.6 0 0 1 1245.62,843.65 L1226.60,833.37 L1232.30,812.12 L1253.91,812.74 A113.6,113.6 0 0 1 1267.56,789.09 L1256.22,770.68 L1271.78,755.12 L1290.19,766.46 A113.6,113.6 0 0 1 1313.84,752.81 L1313.22,731.20 L1334.47,725.50 L1344.75,744.52 A113.6,113.6 0 0 1 1372.05,744.52 Z" fill="#b2c1f1"/>
<circle cx="1358.4" cy="857.3" r="102.2" fill="none" stroke="#fff" stroke-width="3.6"/>
<circle cx="1358.4" cy="857.3" r="90.5" fill="none" stroke="#fff" stroke-width="5"/>
<rect x="1321.4" y="805.3" width="18.8" height="92.6" fill="#fff"/>
<rect x="1283.7" y="842.7" width="38" height="18.2" fill="#fff"/>
<polygon points="1339.5,849 1384.4,805.3 1408.5,805.3 1364.9,851.1 1387.7,875.2 1398.1,866.7 1408.5,908.6 1366.9,897.9 1374,888.2 1339.5,853.5" fill="#fff"/>
</body></html>
